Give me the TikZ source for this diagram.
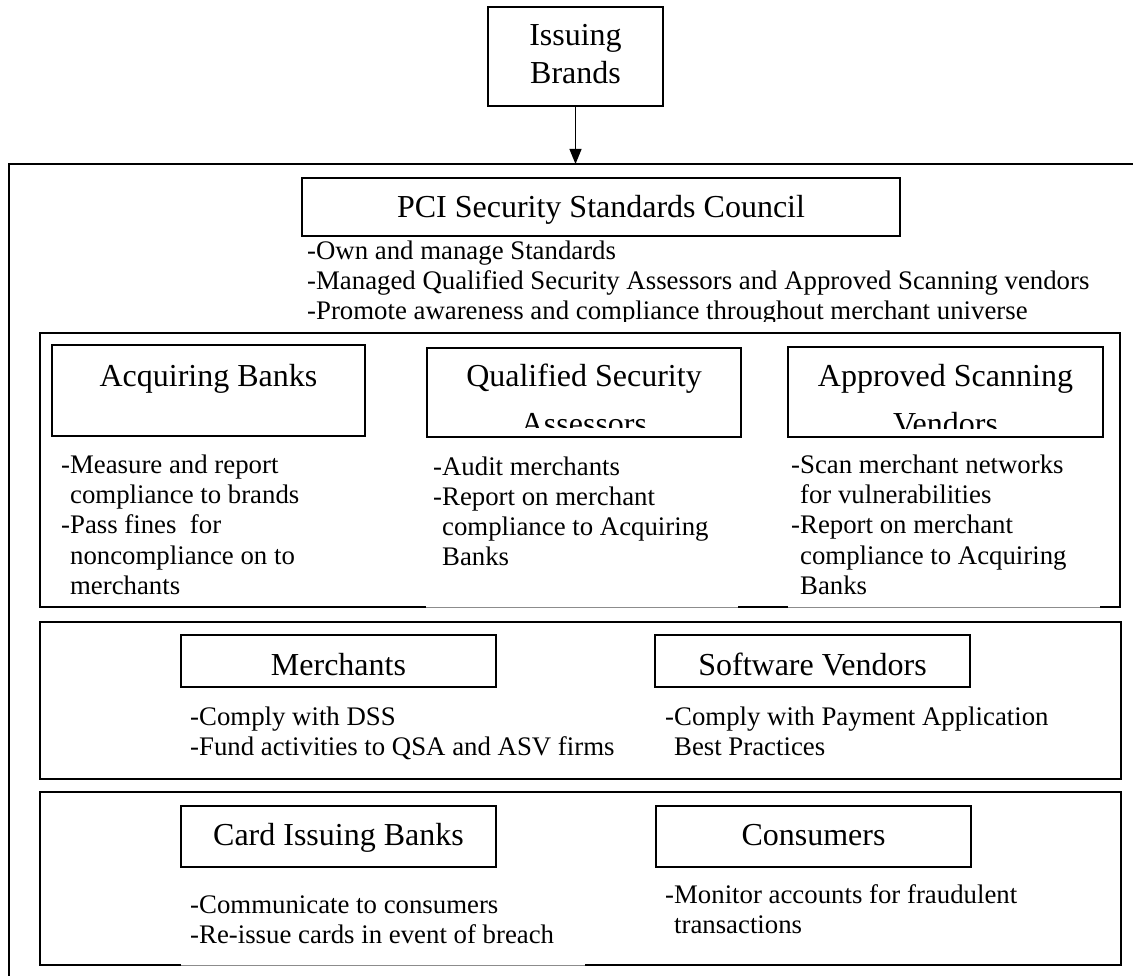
\documentclass[tikz,border=0pt]{standalone}
\usepackage{fontspec}
\setmainfont{Liberation Serif}
\usetikzlibrary{arrows.meta}
\begin{document}
\begin{tikzpicture}[x=1pt,y=-1pt,
  ln/.style={line width=1.3pt, line join=miter},
  thinln/.style={line width=0.8pt, black!45},
  box/.style={draw, line width=1.2pt, inner sep=0pt, outer sep=0pt},
  hd/.style={inner sep=0pt, anchor=base, font=\fontsize{32}{38}\selectfont},
  bl/.style={inner sep=0pt, anchor=base west, font=\fontsize{26.8}{30}\selectfont}]
\useasboundingbox (0,0) rectangle (1133,976);

% Issuing Brands and arrow
\node[box, minimum width=175pt, minimum height=99pt] (iss) at (575.5,56.5) {};
\node[hd] (iss1) at (575.5,46) {Issuing};
\node[hd] (iss2) at (575.5,84) {Brands};
\coordinate (otl) at (9,164);
\coordinate (otr) at (1133,164);
\coordinate (obl) at (9,976);
\coordinate (otop) at (575.5,164);
\draw[ln] (otr) -- (otl) -- (obl);
\draw[line width=1.2pt, -{Triangle[length=15pt,width=12pt]}] (iss.south) -- (otop);

% PCI Council
\node[box, minimum width=598pt, minimum height=58pt] (pci) at (601,207) {};
\node[hd] (pcit) at (601,218) {PCI Security Standards Council};
\begin{scope}
\clip (0,0) rectangle (1133,322);
\node[bl] (pci1) at (307,260) {-Own and manage Standards};
\node[bl] (pci2) at (307,290) {-Managed Qualified Security Assessors and Approved Scanning vendors};
\node[bl] (pci3) at (307,320) {-Promote awareness and compliance throughout merchant universe};
\end{scope}

% Group 1
\draw[thinln] (40,607) -- (1120,607);
\draw[ln] (426,607) -- (40,607) -- (40,333) -- (1120,333) -- (1120,607) -- (1100,607);
\draw[ln] (738,607) -- (788,607);

\node[box, minimum width=313pt, minimum height=91pt] (acq) at (208.5,390.5) {};
\node[hd] (acqt) at (208.5,386) {Acquiring Banks};

\node[box, minimum width=314pt, minimum height=89pt] (qsa) at (584,392.5) {};
\node[box, minimum width=315pt, minimum height=90pt] (asv) at (945.5,392) {};
\begin{scope}
\clip (427,348) rectangle (741,427);
\node[hd] (qsat1) at (584,387) {Qualified Security};
\node[hd] (qsat2) at (584,434) {Assessors};
\end{scope}
\begin{scope}
\clip (788,347) rectangle (1103,428);
\node[hd] (asvt1) at (945.5,387) {Approved Scanning};
\node[hd] (asvt2) at (945.5,434) {Vendors};
\end{scope}

\node[bl] (acq1) at (61,473) {-Measure and report};
\node[bl] (acq2) at (61,503) {\phantom{-}compliance to brands};
\node[bl] (acq3) at (61,533) {-Pass fines\ \ for};
\node[bl] (acq4) at (61,564) {\phantom{-}noncompliance on to};
\node[bl] (acq5) at (61,594) {\phantom{-}merchants};

\node[bl] (qsa1) at (433,475) {-Audit merchants};
\node[bl] (qsa2) at (433,505) {-Report on merchant};
\node[bl] (qsa3) at (433,535) {\phantom{-}compliance to Acquiring};
\node[bl] (qsa4) at (433,565) {\phantom{-}Banks};

\node[bl] (asv1) at (791,473) {-Scan merchant networks};
\node[bl] (asv2) at (791,503) {\phantom{-}for vulnerabilities};
\node[bl] (asv3) at (791,533) {-Report on merchant};
\node[bl] (asv4) at (791,564) {\phantom{-}compliance to Acquiring};
\node[bl] (asv5) at (791,594) {\phantom{-}Banks};

% Group 2
\draw[ln] (40,622) rectangle (1121,779);
\node[box, minimum width=315pt, minimum height=52pt] (mer) at (338.5,661) {};
\node[hd] (mert) at (338.5,675) {Merchants};
\node[box, minimum width=315pt, minimum height=52pt] (sw) at (812.5,661) {};
\node[hd] (swt) at (812.5,675) {Software Vendors};
\node[bl] (mer1) at (190,725) {-Comply with DSS};
\node[bl] (mer2) at (190,755) {-Fund activities to QSA and ASV firms};
\node[bl] (sw1) at (665,725) {-Comply with Payment Application};
\node[bl] (sw2) at (665,755) {\phantom{-}Best Practices};

% Group 3
\draw[thinln] (181,965) -- (585,965);
\draw[ln] (181,965) -- (40,965) -- (40,792) -- (1121,792) -- (1121,965) -- (585,965);
\node[box, minimum width=315pt, minimum height=61pt] (cib) at (338.5,836.5) {};
\node[hd] (cibt) at (338.5,845) {Card Issuing Banks};
\node[box, minimum width=315pt, minimum height=61pt] (con) at (813.5,836.5) {};
\node[hd] (cont) at (813.5,845) {Consumers};
\node[bl] (cib1) at (190,913) {-Communicate to consumers};
\node[bl] (cib2) at (190,943) {-Re-issue cards in event of breach};
\node[bl] (con1) at (665,903) {-Monitor accounts for fraudulent};
\node[bl] (con2) at (665,933) {\phantom{-}transactions};
\end{tikzpicture}
\end{document}
